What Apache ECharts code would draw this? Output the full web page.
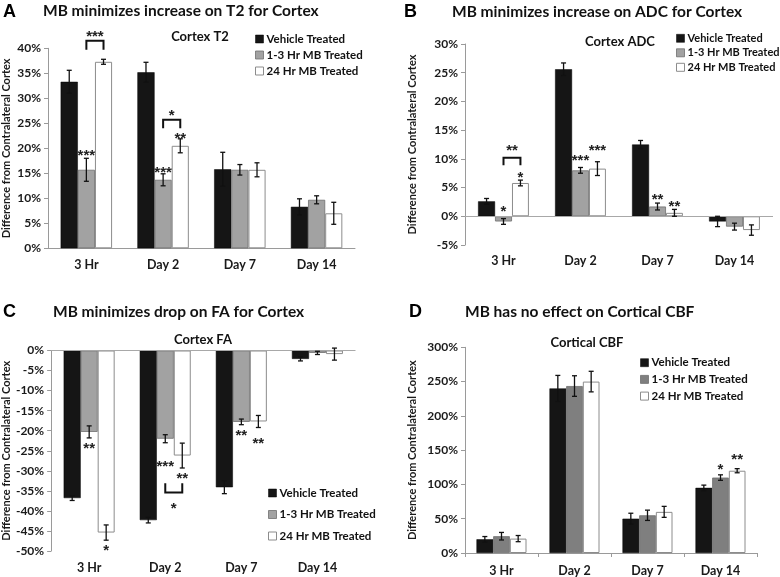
<!DOCTYPE html>
<html>
<head>
<meta charset="utf-8">
<script src="https://cdn.jsdelivr.net/npm/echarts@6/dist/echarts.min.js"></script>
<style>
  html, body { margin: 0; padding: 0; background: #fff; }
  #chart { width: 780px; height: 577px; }
</style>
</head>
<body>
<div id="chart"></div>
<script>
const categories = ['3 Hr', 'Day 2', 'Day 7', 'Day 14']
const groupNames = ['Vehicle Treated', '1-3 Hr MB Treated', '24 Hr MB Treated']

// A - Cortex T2 (%)
const t2Vehicle = [33.3, 35.2, 15.8, 8.3]
const t2Mb13 = [15.7, 13.7, 15.7, 9.7]
const t2Mb24 = [37.3, 20.5, 15.7, 7.0]
const t2VehicleErr = [2.3, 2.0, 3.4, 1.6]
const t2Mb13Err = [2.3, 1.2, 1.05, 0.8]
const t2Mb24Err = [0.5, 1.4, 1.4, 2.2]
const t2Ticks = [0, 40, 5]
// [category, bar, y, text]
const t2Stars = [[0, 1, 19.1, '***'], [1, 1, 15.7, '***'], [1, 2, 22.5, '**']]
// [category, fromBar, toBar, yBar, yLeg, yText, text]
const t2Brackets = [[0, 1, 2, 41.5, 39.7, 42.9, '***'], [1, 1, 2, 25.7, 24.0, 27.1, '*']]

// B - Cortex ADC (%)
const adcVehicle = [2.6, 25.6, 12.5, -0.9]
const adcMb13 = [-0.9, 8.0, 1.7, -1.8]
const adcMb24 = [5.8, 8.3, 0.6, -2.4]
const adcVehicleErr = [0.5, 1.1, 0.7, 0.9]
const adcMb13Err = [0.5, 0.5, 0.6, 0.6]
const adcMb24Err = [0.5, 1.2, 0.6, 0.9]
const adcTicks = [-5, 30, 5]
const adcStars = [[0, 1, 1.3, '*'], [0, 2, 7.3, '*'], [1, 1, 10.3, '***'], [1, 2, 12.0, '***'], [2, 1, 3.4, '**'], [2, 2, 2.3, '**']]
const adcBrackets = [[0, 1, 2, 10.2, 8.9, 12.0, '**']]

// C - Cortex FA (%)
const faVehicle = [-36.8, -42.3, -34.1, -2.1]
const faMb13 = [-20.3, -22.0, -17.8, -0.6]
const faMb24 = [-45.4, -26.2, -17.7, -0.9]
const faVehicleErr = [0.6, 0.7, 1.6, 0.5]
const faMb13Err = [1.5, 1.0, 0.7, 0.4]
const faMb24Err = [1.9, 3.1, 1.5, 1.5]
const faTicks = [-50, 0, 5]
const faStars = [[0, 1, -23.6, '**'], [0, 2, -49.1, '*'], [1, 1, -28.1, '***'], [1, 2, -31.2, '**'], [2, 1, -20.3, '**'], [2, 2, -22.4, '**']]
const faBrackets = [[1, 1, 2, -35.4, -33.1, -38.7, '*']]

// D - Cortical CBF (%)
const cbfVehicle = [20, 240, 50, 95]
const cbfMb13 = [24.5, 243.5, 55, 110]
const cbfMb24 = [21, 250, 60, 120]
const cbfVehicleErr = [4, 19, 8, 4]
const cbfMb13Err = [5.5, 15, 7.5, 4]
const cbfMb24Err = [4.5, 15, 8, 3]
const cbfTicks = [0, 300, 50]
const cbfStars = [[3, 1, 126, '*'], [3, 2, 141, '**']]
const cbfBrackets = []

const FONT = 'Lato, "Open Sans", sans-serif'
const STAR_FONT = 'bold 15px "Liberation Sans", Arial, sans-serif'

const panels = [
  {
    grid: { left: 46, top: 48.3, width: 309, height: 200 },
    ticks: t2Ticks, values: [t2Vehicle, t2Mb13, t2Mb24], errors: [t2VehicleErr, t2Mb13Err, t2Mb24Err],
    stars: t2Stars, brackets: t2Brackets, gap: 0.33, gray: '#a2a2a2', nameGap: 36,
    zeroLine: false, xLine: true, xTicks: false, labelMargin: 10,
    title: 'MB minimizes increase on T2 for Cortex', titleX: 43, titleY: 11, letter: 'A', letterX: 3, letterY: 12,
    sub: 'Cortex T2', subX: 200, subY: 36.5,
    legend: { left: 255, top: 32, itemGap: 2, fontSize: 11.5 }
  },
  {
    grid: { left: 465, top: 44, width: 308, height: 201 },
    ticks: adcTicks, values: [adcVehicle, adcMb13, adcMb24], errors: [adcVehicleErr, adcMb13Err, adcMb24Err],
    stars: adcStars, brackets: adcBrackets, gap: 0.34, gray: '#a2a2a2', nameGap: 47,
    zeroLine: true, xLine: false, xTicks: false, labelMargin: 9,
    title: 'MB minimizes increase on ADC for Cortex', titleX: 452, titleY: 12, letter: 'B', letterX: 404, letterY: 12,
    sub: 'Cortex ADC', subX: 620, subY: 41.5,
    legend: { left: 676, top: 31.3, itemGap: 0.5, fontSize: 11 }
  },
  {
    grid: { left: 46.5, top: 350.5, width: 309, height: 200.5 },
    ticks: faTicks, values: [faVehicle, faMb13, faMb24], errors: [faVehicleErr, faMb13Err, faMb24Err],
    stars: faStars, brackets: faBrackets, gap: 0.33, gray: '#a2a2a2', nameGap: 36,
    zeroLine: true, xLine: false, xTicks: false, labelMargin: 10,
    title: 'MB minimizes drop on FA for Cortex', titleX: 53, titleY: 312, letter: 'C', letterX: 3, letterY: 312,
    sub: 'Cortex FA', subX: 203, subY: 340,
    legend: { left: 268, top: 486, itemGap: 7.5, fontSize: 11.5 }
  },
  {
    grid: { left: 465, top: 347.3, width: 292, height: 206 },
    ticks: cbfTicks, values: [cbfVehicle, cbfMb13, cbfMb24], errors: [cbfVehicleErr, cbfMb13Err, cbfMb24Err],
    stars: cbfStars, brackets: cbfBrackets, gap: 0.315, gray: '#7f7f7f', nameGap: 47,
    zeroLine: false, xLine: true, xTicks: true, labelMargin: 11,
    title: 'MB has no effect on Cortical CBF', titleX: 465, titleY: 312, letter: 'D', letterX: 409, letterY: 312,
    sub: 'Cortical CBF', subX: 587, subY: 342.5,
    legend: { left: 640, top: 355.7, itemGap: 2.7, fontSize: 11.5 }
  }
]

function barStyles(gray) {
  return [
    { color: '#151515', borderColor: '#000', borderWidth: 0.5 },
    { color: gray, borderColor: '#6e6e6e', borderWidth: 0.8 },
    { color: '#fff', borderColor: '#8c8c8c', borderWidth: 1 }
  ]
}

const grids = [], xAxes = [], yAxes = [], series = [], legends = [], graphics = []

panels.forEach((p, pi) => {
  grids.push(Object.assign({ containLabel: false }, p.grid))
  xAxes.push({
    type: 'category', gridIndex: pi, data: categories,
    axisLine: { show: p.xLine, onZero: false, lineStyle: { color: '#9a9a9a', width: 1 } },
    axisTick: { show: p.xTicks, length: 4, lineStyle: { color: '#9a9a9a' } },
    axisLabel: { margin: p.labelMargin, color: '#1a1a1a', fontFamily: FONT, fontWeight: 'bold', fontSize: 12.5 }
  })
  yAxes.push({
    type: 'value', gridIndex: pi, min: p.ticks[0], max: p.ticks[1], interval: p.ticks[2],
    name: 'Difference from Contralateral Cortex', nameLocation: 'middle', nameGap: p.nameGap, nameRotate: 90,
    nameTextStyle: { color: '#1a1a1a', fontFamily: FONT, fontWeight: 'bold', fontSize: 11 },
    axisLine: { show: true, lineStyle: { color: '#9a9a9a', width: 1 } },
    axisTick: { show: true, length: 4, lineStyle: { color: '#9a9a9a' } },
    splitLine: { show: false },
    axisLabel: { margin: 7, color: '#1a1a1a', fontFamily: FONT, fontWeight: 'bold', fontSize: 12, formatter: '{value}%' }
  })

  const styles = barStyles(p.gray)
  const gapRatio = p.gap
  p.values.forEach((vals, g) => {
    const s = {
      type: 'bar', name: groupNames[g], xAxisIndex: pi, yAxisIndex: pi, data: vals,
      barGap: '0%', barCategoryGap: (gapRatio * 100) + '%', itemStyle: styles[g], silent: true
    }
    if (g === 0 && p.zeroLine) {
      s.markLine = {
        silent: true, symbol: 'none', label: { show: false },
        lineStyle: { color: '#a8a8a8', type: 'solid', width: 1 },
        data: [{ yAxis: 0 }]
      }
    }
    series.push(s)
  })

  // error bars
  p.values.forEach((vals, g) => {
    const errs = p.errors[g]
    series.push({
      type: 'custom', xAxisIndex: pi, yAxisIndex: pi, silent: true, z: 5, clip: false,
      data: vals.map((v, i) => [i, v, errs[i], g]),
      renderItem: (params, api) => {
        const cat = api.value(0), v = api.value(1), e = api.value(2), gi = api.value(3)
        const band = api.size([1, 0])[0]
        const bw = band * (1 - gapRatio) / 3
        const x = api.coord([cat, v])[0] + (gi - 1) * bw
        const hi = api.coord([cat, v + e])[1]
        const lo = api.coord([cat, v - e])[1]
        const st = { stroke: '#111', lineWidth: 1.3 }
        return {
          type: 'group', children: [
            { type: 'line', shape: { x1: x, y1: hi, x2: x, y2: lo }, style: st },
            { type: 'line', shape: { x1: x - 2.5, y1: hi, x2: x + 2.5, y2: hi }, style: st },
            { type: 'line', shape: { x1: x - 2.5, y1: lo, x2: x + 2.5, y2: lo }, style: st }
          ]
        }
      }
    })
  })

  // significance stars
  const stars = p.stars
  series.push({
    type: 'custom', xAxisIndex: pi, yAxisIndex: pi, silent: true, z: 6, clip: false,
    data: stars.map(s => [s[0], s[2], s[1]]),
    renderItem: (params, api) => {
      const band = api.size([1, 0])[0]
      const bw = band * (1 - gapRatio) / 3
      const pt = api.coord([api.value(0), api.value(1)])
      return {
        type: 'text',
        style: {
          text: stars[params.dataIndex][3], x: pt[0] + (api.value(2) - 1) * bw, y: pt[1] + 3.5,
          align: 'center', verticalAlign: 'middle', fill: '#222', font: STAR_FONT
        }
      }
    }
  })

  // brackets
  const brackets = p.brackets
  series.push({
    type: 'custom', xAxisIndex: pi, yAxisIndex: pi, silent: true, z: 6, clip: false,
    data: brackets.map(b => [b[0], b[1], b[2], b[3], b[4], b[5]]),
    renderItem: (params, api) => {
      const band = api.size([1, 0])[0]
      const bw = band * (1 - gapRatio) / 3
      const cx = api.coord([api.value(0), 0])[0]
      const x1 = cx + (api.value(1) - 1) * bw
      const x2 = cx + (api.value(2) - 1) * bw
      const yb = api.coord([api.value(0), api.value(3)])[1]
      const yl = api.coord([api.value(0), api.value(4)])[1]
      const yt = api.coord([api.value(0), api.value(5)])[1]
      return {
        type: 'group', children: [
          { type: 'polyline', shape: { points: [[x1, yl], [x1, yb], [x2, yb], [x2, yl]] }, style: { stroke: '#111', lineWidth: 2, fill: null } },
          { type: 'text', style: { text: brackets[params.dataIndex][6], x: (x1 + x2) / 2, y: yt + 3.5, align: 'center', verticalAlign: 'middle', fill: '#222', font: STAR_FONT } }
        ]
      }
    }
  })

  legends.push({
    orient: 'vertical', left: p.legend.left, top: p.legend.top, itemGap: p.legend.itemGap,
    padding: 0, itemWidth: 8, itemHeight: 8, icon: 'rect', selectedMode: false,
    textStyle: { color: '#111', fontFamily: FONT, fontWeight: 'bold', fontSize: p.legend.fontSize, lineHeight: 14, padding: [0, 0, 0, -2] },
    data: groupNames.map((n, g) => ({ name: n, itemStyle: styles[g] }))
  })

  graphics.push(
    { type: 'text', x: p.letterX, y: p.letterY, style: { text: p.letter, font: 'bold 18px "Liberation Sans", Arial, sans-serif', fill: '#000', verticalAlign: 'middle' } },
    { type: 'text', x: p.titleX, y: p.titleY, style: { text: p.title, font: 'bold 15.5px ' + FONT, fill: '#111', verticalAlign: 'middle' } },
    { type: 'text', x: p.subX, y: p.subY, style: { text: p.sub, font: 'bold 13px ' + FONT, fill: '#111', align: 'center', verticalAlign: 'middle' } }
  )
})

const chart = echarts.init(document.getElementById('chart'))
chart.setOption({
  animation: false,
  backgroundColor: '#fff',
  grid: grids,
  xAxis: xAxes,
  yAxis: yAxes,
  legend: legends,
  graphic: graphics,
  series: series
})
</script>
</body>
</html>
